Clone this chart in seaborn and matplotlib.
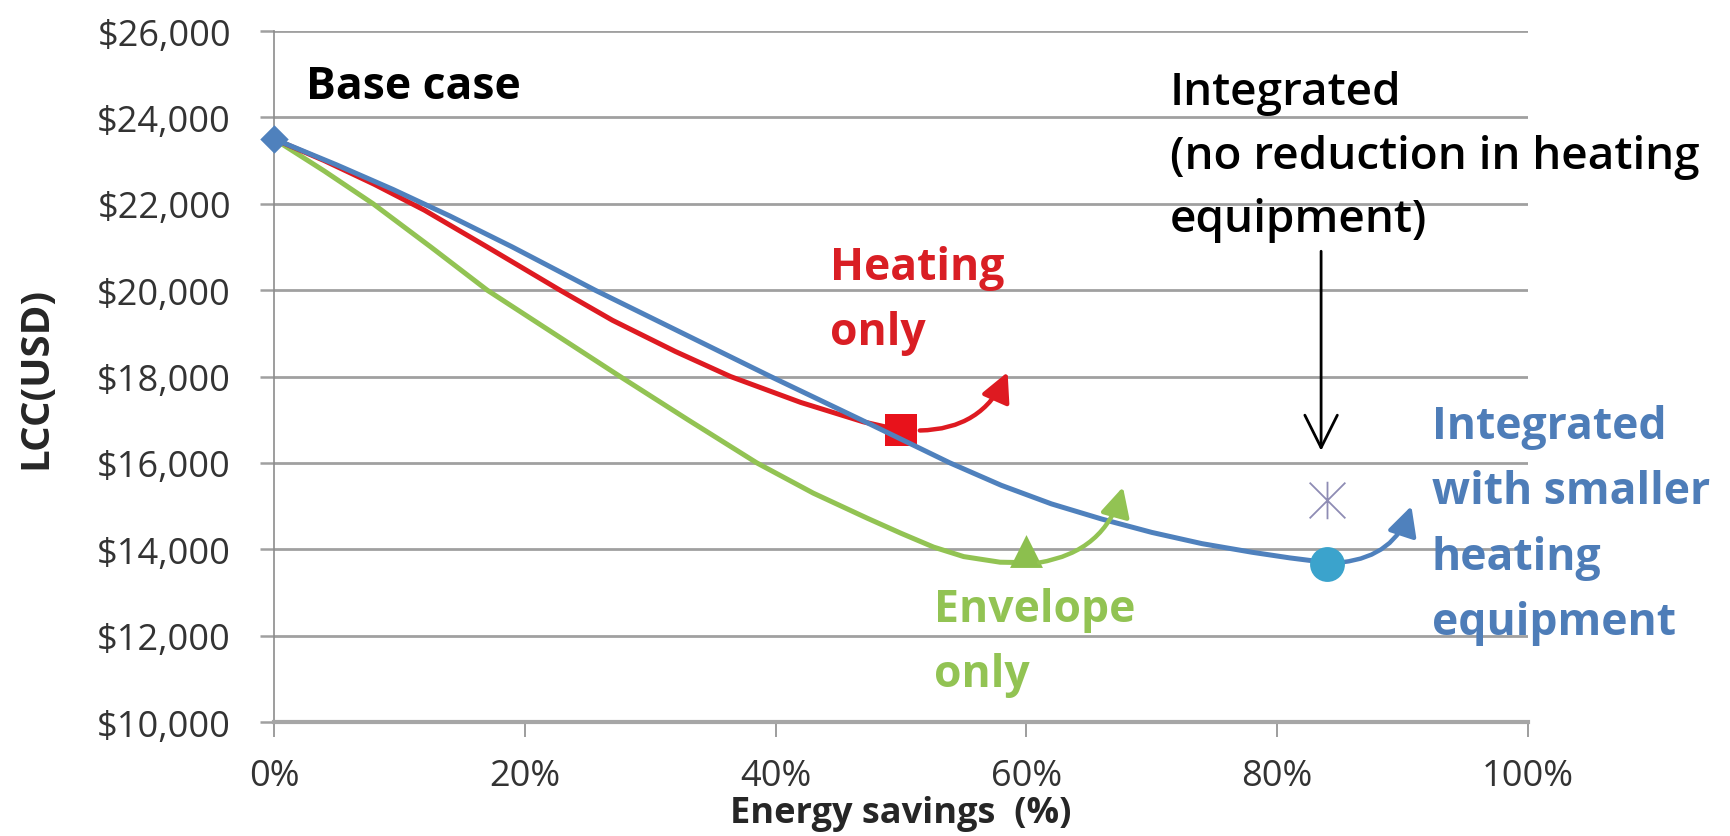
import numpy as np
import pandas as pd
import matplotlib
matplotlib.use('Agg')
import matplotlib.pyplot as plt
from matplotlib.path import Path
from matplotlib.ticker import FuncFormatter
import seaborn as sns

# ===== data (energy savings %, LCC USD) =====
heat_x = [0, 4, 8, 12, 17, 22.8, 27, 32, 36.4, 42, 47, 50]
heat_y = [23500, 23000, 22450, 21850, 21000, 20000, 19300, 18580, 18000, 17400, 16950, 16750]
env_x = [0, 4, 7.9, 12.5, 17, 22.3, 27.6, 33, 38.5, 43, 47.3, 50, 52.6, 55, 57.9, 60]
env_y = [23500, 22760, 22000, 21000, 20000, 19000, 18000, 17000, 16000, 15300, 14720, 14370,
         14050, 13830, 13700, 13690]
int_x = [0, 5, 9.5, 14, 19, 25.6, 32.6, 39.6, 46.8, 53.9, 58, 62, 66, 70, 74, 78, 81, 84]
int_y = [23500, 22900, 22330, 21720, 21000, 20000, 19000, 18000, 17000, 16000, 15480, 15050,
         14700, 14390, 14130, 13930, 13800, 13690]

base_pt = (0, 23500)
heat_pt = (50, 16750)
env_pt = (60, 13950)
int_pt = (84, 13660)
noreduce_pt = (84, 15150)

# arrow start / tip (x %, y USD)
heat_arrow = [(51.5, 16750), (58.5, 18100)]
env_arrow = [(61, 13690), (67.7, 15440)]
int_arrow = [(85.2, 13700), (90.7, 15000)]
note_arrow = [(83.5, 20900), (83.5, 16280)]

x_ticks = [0, 20, 40, 60, 80, 100]
y_ticks = [10000, 12000, 14000, 16000, 18000, 20000, 22000, 24000, 26000]

# ===== style =====
BLUE = '#4F81BD'
RED = '#DE1A21'
GREEN = '#92C353'
CYAN = '#3BA3CC'
STAR = '#8E8CB4'
TXT_BLUE = '#4E7DB8'
FS_NOTE = 32
FS_TICK = 26
FS_LABEL = 26
LS = 1.6

sns.set_style('white')
plt.rcParams['font.family'] = ['Open Sans', 'DejaVu Sans']

fig = plt.figure(figsize=(17.31, 8.37), dpi=100)
ax = fig.add_axes([274 / 1731, 1 - 723 / 837, 1254 / 1731, 691 / 837])

df = pd.concat([
    pd.DataFrame({'x': env_x, 'y': env_y, 'case': 'Envelope only'}),
    pd.DataFrame({'x': heat_x, 'y': heat_y, 'case': 'Heating only'}),
])
sns.lineplot(data=df, x='x', y='y', hue='case', palette={'Envelope only': GREEN, 'Heating only': RED},
             sort=False, estimator=None, lw=3.6, legend=False, ax=ax, zorder=3,
             solid_joinstyle='round', solid_capstyle='round')

sns.scatterplot(x=[heat_pt[0]], y=[heat_pt[1]], marker='s', s=560, color='#E8121B',
                linewidth=0, ax=ax, zorder=4)
sns.scatterplot(x=[env_pt[0]], y=[env_pt[1]], marker='^', s=560, color='#8CBF4E',
                linewidth=0, ax=ax, zorder=4)

sns.lineplot(x=int_x, y=int_y, sort=False, estimator=None, color=BLUE, lw=3.6, ax=ax,
             zorder=5, solid_joinstyle='round', solid_capstyle='round')

sns.scatterplot(x=[base_pt[0]], y=[base_pt[1]], marker='D', s=210, color=BLUE,
                linewidth=0, ax=ax, zorder=6, clip_on=False)
sns.scatterplot(x=[int_pt[0]], y=[int_pt[1]], marker='o', s=630, color=CYAN,
                linewidth=0, ax=ax, zorder=6)

star = Path([(-1, -1), (1, 1), (-1, 1), (1, -1), (0, -1.05), (0, 1.05)],
            [Path.MOVETO, Path.LINETO, Path.MOVETO, Path.LINETO, Path.MOVETO, Path.LINETO])
ax.plot(*noreduce_pt, marker=star, ms=27, mec=STAR, mew=1.3, mfc='none', ls='none', zorder=6)

# curved arrows
for (a, b), c in [(heat_arrow, RED), (env_arrow, GREEN), (int_arrow, BLUE)]:
    ax.annotate('', xy=b, xytext=a,
                arrowprops=dict(arrowstyle='-|>,head_length=0.55,head_width=0.28', color=c, lw=3.2,
                                connectionstyle='arc3,rad=0.32', mutation_scale=32,
                                shrinkA=0, shrinkB=0), zorder=5)
ax.annotate('', xy=note_arrow[1], xytext=note_arrow[0],
            arrowprops=dict(arrowstyle='->,head_length=0.9,head_width=0.45', color='black', lw=2,
                            mutation_scale=26, shrinkA=0, shrinkB=0), zorder=5)

# texts
ax.text(2.55, 25236, 'Base case', fontsize=FS_NOTE, fontweight='bold', va='top', color='black')
ax.text(71.45, 25100, 'Integrated\n(no reduction in heating\nequipment)', fontsize=33,
        fontweight='semibold', va='top', color='black', linespacing=1.55)
ax.text(44.34, 21045, 'Heating\nonly', fontsize=FS_NOTE, fontweight='bold', va='top', color='#D91E24',
        linespacing=LS)
ax.text(52.63, 13126, 'Envelope\nonly', fontsize=FS_NOTE, fontweight='bold', va='top', color=GREEN,
        linespacing=LS)
ax.text(92.34, 17363, 'Integrated\nwith smaller\nheating\nequipment', fontsize=FS_NOTE,
        fontweight='bold', va='top', color=TXT_BLUE, linespacing=LS, clip_on=False)

# axes
ax.set_xlim(0, 100)
ax.set_ylim(10000, 26000)
ax.set_xticks(x_ticks)
ax.set_yticks(y_ticks)
ax.xaxis.set_major_formatter(FuncFormatter(lambda v, p: f'{v:.0f}%'))
ax.yaxis.set_major_formatter(FuncFormatter(lambda v, p: f'${v:,.0f}'))
ax.tick_params(axis='x', direction='out', length=10.8, width=1.2, color='#8C8C8C', pad=15,
               labelsize=FS_TICK, labelcolor='#333333', bottom=True)
ax.tick_params(axis='y', direction='out', length=10, width=1.8, color='#A0A0A0', pad=21,
               labelsize=FS_TICK, labelcolor='#333333', left=True)
ax.grid(axis='y', color='#A0A0A0', lw=2)
ax.grid(axis='x', visible=False)
for s in ['top', 'right']:
    ax.spines[s].set_visible(False)
ax.spines['left'].set_color('#8C8C8C')
ax.spines['left'].set_linewidth(1.2)
ax.spines['bottom'].set_color('#A6A6A6')
ax.spines['bottom'].set_linewidth(3)

ax.set_xlabel('Energy savings  (%)', fontsize=FS_LABEL, fontweight='bold', va='bottom')
ax.xaxis.set_label_coords(0.5, -0.158)
ax.set_ylabel('LCC(USD)', fontsize=29, fontweight='bold', va='center')
ax.yaxis.set_label_coords(-0.19, 0.5)

fig.savefig('out.png', dpi=100)
